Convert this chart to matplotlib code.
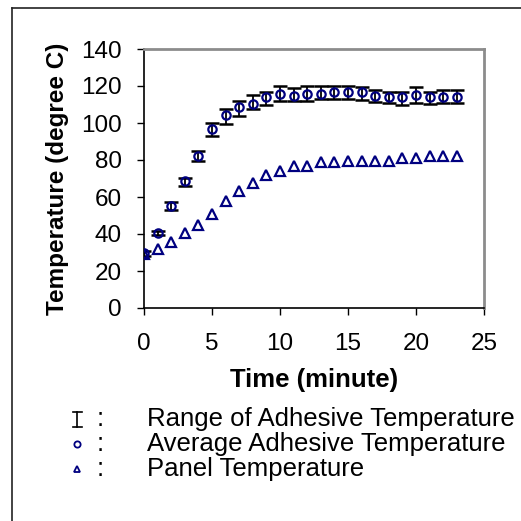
import matplotlib
matplotlib.use("Agg")
import matplotlib.pyplot as plt
from matplotlib.lines import Line2D

plt.rcParams['font.family'] = ['Liberation Sans', 'DejaVu Sans']

time_min = list(range(24))
avg_adhesive = [29.6, 40.5, 55.4, 68.5, 81.9, 96.9, 104.1, 108.4, 110.4, 113.8,
                115.8, 114.7, 115.8, 115.9, 117.0, 116.7, 116.7, 114.7, 113.8, 113.8,
                115.2, 113.8, 113.8, 113.8]
adhesive_max = [31.0, 41.5, 57.2, 70.3, 84.6, 100.0, 107.5, 111.7, 114.9, 117.0,
                120.1, 118.8, 120.1, 120.1, 120.0, 120.0, 119.2, 117.9, 117.0, 117.0,
                119.2, 117.0, 117.9, 117.9]
adhesive_min = [28.0, 39.5, 53.2, 66.1, 79.2, 93.2, 99.6, 103.9, 107.3, 109.5,
                112.0, 111.7, 111.7, 113.0, 113.0, 113.0, 112.5, 111.1, 110.7, 109.9,
                110.7, 110.4, 110.7, 110.7]
panel_temp = [29.0, 31.7, 35.9, 40.3, 44.6, 51.0, 57.7, 63.0, 67.6, 71.7,
              73.8, 77.0, 77.0, 78.9, 78.9, 79.7, 79.7, 79.7, 79.7, 81.0,
              81.0, 81.9, 81.9, 81.9]

x_ticks = [0, 5, 10, 15, 20, 25]
y_ticks = [0, 20, 40, 60, 80, 100, 120, 140]
legend_labels = ["Range of Adhesive Temperature",
                 "Average Adhesive Temperature",
                 "Panel Temperature"]

W = H = 521
navy = '#000080'
fig = plt.figure(figsize=(W / 100, H / 100), dpi=100)


def fx(px):
    return px / W


def fy(py):
    return 1 - py / H


ax = fig.add_axes([fx(144), fy(308), fx(484) - fx(144), fy(49) - fy(308)])

lower = [a - b for a, b in zip(avg_adhesive, adhesive_min)]
upper = [b - a for a, b in zip(avg_adhesive, adhesive_max)]
ax.errorbar(time_min, avg_adhesive, yerr=[lower, upper], fmt='none',
            ecolor='black', elinewidth=1.3, capsize=5, capthick=1.8, zorder=2)
ax.plot(time_min, avg_adhesive, linestyle='none', marker='o', markersize=6,
        markerfacecolor='none', markeredgecolor=navy, markeredgewidth=1.6, zorder=3)
ax.plot(time_min, panel_temp, linestyle='none', marker='^', markersize=7,
        markerfacecolor='none', markeredgecolor=navy, markeredgewidth=1.6, zorder=3)

ax.set_xlim(0, 25)
ax.set_ylim(0, 140)
ax.set_xticks(x_ticks)
ax.set_yticks(y_ticks)
ax.tick_params(direction='out', length=5, width=1, labelsize=17.5, colors='black')
ax.tick_params(axis='x', pad=13)
ax.tick_params(axis='y', pad=11)
for s in ['left', 'bottom']:
    ax.spines[s].set_color('black')
    ax.spines[s].set_linewidth(1.2)
for s in ['top', 'right']:
    ax.spines[s].set_color('#8c8c8c')
    ax.spines[s].set_linewidth(2)

ax.set_xlabel("Time (minute)", fontsize=18.5, fontweight='bold', labelpad=9)
ax.set_ylabel("Temperature (degree C)", fontsize=17.5, fontweight='bold', labelpad=9)

# outer frame (top and left edges visible)
fig.add_artist(Line2D([fx(12), fx(W)], [fy(8), fy(8)], color='#222222', lw=1.2,
                      transform=fig.transFigure))
fig.add_artist(Line2D([fx(12), fx(12)], [fy(8), fy(H)], color='#222222', lw=1.2,
                      transform=fig.transFigure))

# custom legend
rows_y = [419, 444, 469]
sx = 77
# I-beam symbol
fig.add_artist(Line2D([fx(sx), fx(sx)], [fy(412), fy(427)], color='black', lw=1.2,
                      transform=fig.transFigure))
for yy in (412, 427):
    fig.add_artist(Line2D([fx(sx - 4.5), fx(sx + 4.5)], [fy(yy), fy(yy)], color='black',
                          lw=1.2, transform=fig.transFigure))
fig.add_artist(Line2D([fx(sx)], [fy(rows_y[1])], marker='o', markersize=4.5,
                      markerfacecolor='none', markeredgecolor=navy,
                      markeredgewidth=1.3, transform=fig.transFigure))
fig.add_artist(Line2D([fx(sx)], [fy(rows_y[2])], marker='^', markersize=5,
                      markerfacecolor='none', markeredgecolor=navy,
                      markeredgewidth=1.3, transform=fig.transFigure))
for ry, lab in zip(rows_y, legend_labels):
    fig.text(fx(100), fy(ry), ":", fontsize=18.5, ha='center', va='center')
    fig.text(fx(147), fy(ry), lab, fontsize=18.5, ha='left', va='center')

fig.savefig("out.png", dpi=100)
